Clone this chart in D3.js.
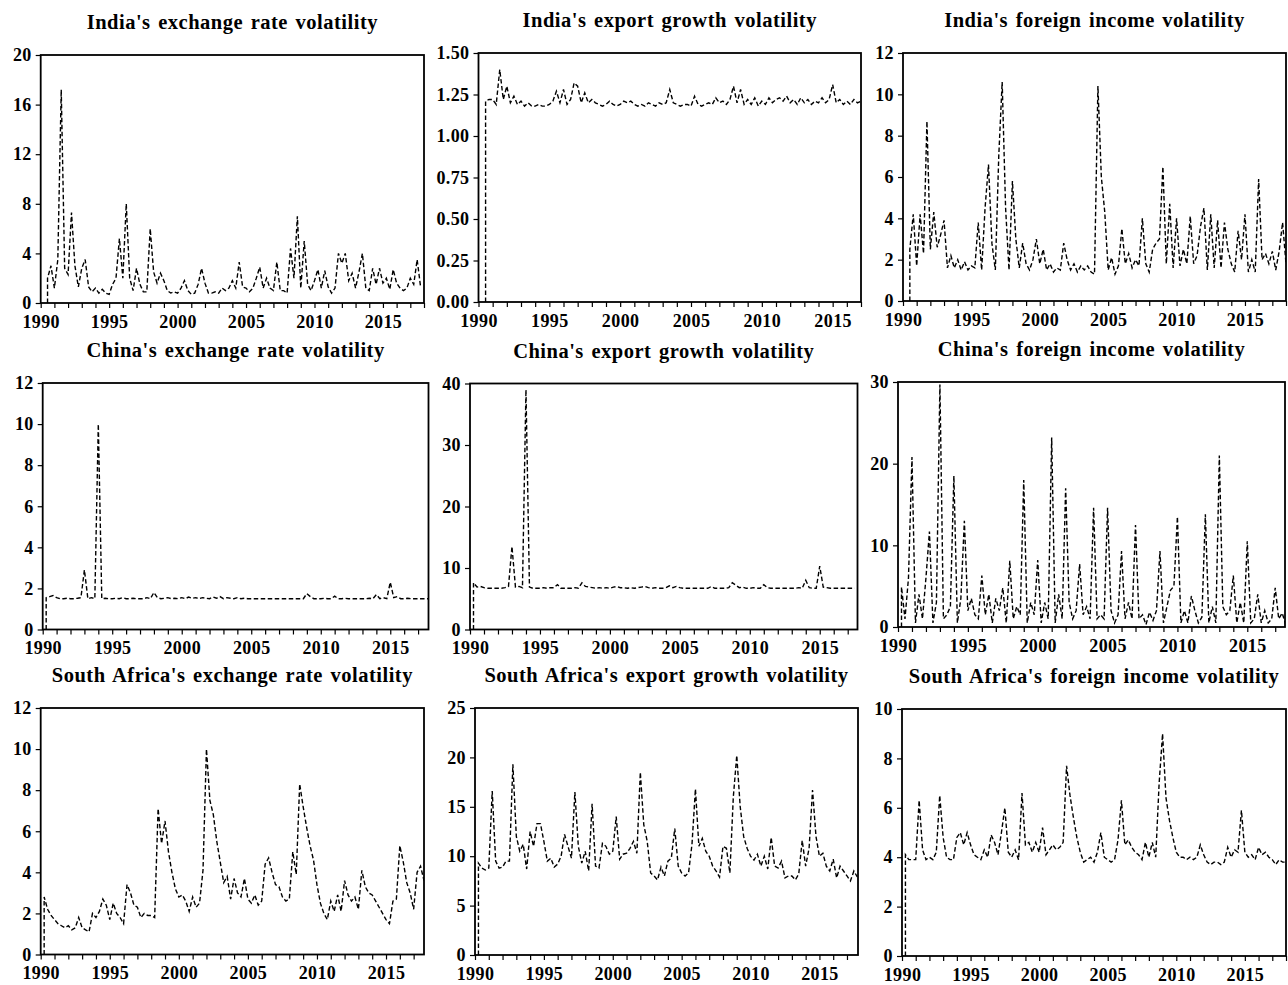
<!DOCTYPE html>
<html>
<head>
<meta charset="utf-8">
<script src="https://cdn.jsdelivr.net/npm/d3@7"></script>
<style>
  html, body { margin: 0; padding: 0; background: #fff; }
  svg { display: block; }
  .title { font-family: "Liberation Serif", "Times New Roman", serif; font-weight: bold; font-size: 20.5px; letter-spacing: 0.5px; word-spacing: 2px; fill: #000; }
  .axis text { font-family: "Liberation Serif", "Times New Roman", serif; font-weight: bold; font-size: 18px; letter-spacing: 0.4px; fill: #000; }
  .axis line { stroke: #000; stroke-width: 1.2; }
</style>
</head>
<body>
<svg id="chart" width="1288" height="985"></svg>
<script>
// ---------------- DATA ----------------
const panelTitles = [
  "India's exchange rate volatility",
  "India's export growth volatility",
  "India's foreign income volatility",
  "China's exchange rate volatility",
  "China's export growth volatility",
  "China's foreign income volatility",
  "South Africa's exchange rate volatility",
  "South Africa's export growth volatility",
  "South Africa's foreign income volatility"
];
const yMaxValues = [20, 1.5, 12, 12, 40, 30, 12, 25, 10];
const yTickSteps = [4, 0.25, 2, 2, 10, 10, 2, 5, 2];
const yTickDecimals = [0, 2, 0, 0, 0, 0, 0, 0, 0];
const xStartYear = 1990;
const xEndYears = [2018, 2017, 2018, 2017.75, 2017.7, 2017.7, 2017.75, 2017.8, 2018];
const yearLabelStep = 5;
// first observed quarter of each series (the leading 0 sits at the same date)
const seriesStart = [1990.5, 1990.5, 1990.5, 1990.25, 1990.25, 1990.25, 1990.25, 1990.25, 1990.25];
const quarterStep = 0.25;

// quarterly values (first value = initial 0)
const indiaExchange = [0,
  2.0, 3.0,
  1.2, 3.5, 17.2, 2.8,
  2.3, 7.3, 3.0, 1.3,
  2.8, 3.5, 1.3, 0.9,
  1.2, 0.8, 1.1, 0.8,
  0.7, 1.5, 2.0, 5.2,
  2.0, 8.0, 2.0, 1.0,
  2.8, 1.5, 0.9, 0.9,
  6.0, 2.5, 1.6, 2.4,
  1.8, 1.0, 0.8, 0.9,
  0.8, 1.2, 1.8, 1.0,
  0.7, 0.8, 1.5, 2.8,
  1.6, 0.8, 0.8, 0.9,
  0.8, 1.2, 1.0, 1.2,
  1.8, 1.2, 3.3, 1.3,
  1.2, 0.9, 1.2, 2.0,
  2.9, 1.2, 2.0, 1.2,
  1.0, 3.3, 1.0, 1.0,
  0.8, 4.4, 2.0, 7.0,
  1.2, 5.0, 1.5, 1.0,
  1.8, 2.7, 1.2, 2.6,
  1.3, 0.8, 1.2, 4.0,
  3.2, 4.0, 1.8, 2.4,
  1.2, 2.5, 4.0, 1.2,
  1.0, 2.8, 1.5, 2.8,
  1.6, 2.0, 1.1, 2.7,
  1.6, 1.2, 1.0, 1.2,
  2.0, 1.5, 3.5, 1.3];

const indiaExport = [0,
  1.21, 1.22,
  1.22, 1.19, 1.40, 1.22,
  1.30, 1.20, 1.24, 1.19,
  1.21, 1.18, 1.20, 1.18,
  1.18, 1.19, 1.18, 1.18,
  1.19, 1.21, 1.27, 1.20,
  1.28, 1.19, 1.22, 1.32,
  1.30, 1.20, 1.26, 1.20,
  1.22, 1.20, 1.19, 1.18,
  1.19, 1.21, 1.19, 1.18,
  1.19, 1.21, 1.20, 1.21,
  1.19, 1.18, 1.19, 1.18,
  1.20, 1.19, 1.18, 1.20,
  1.19, 1.20, 1.28, 1.20,
  1.19, 1.18, 1.19, 1.19,
  1.18, 1.24, 1.19, 1.18,
  1.19, 1.20, 1.19, 1.23,
  1.20, 1.21, 1.19, 1.22,
  1.30, 1.20, 1.28, 1.19,
  1.22, 1.19, 1.23, 1.18,
  1.21, 1.19, 1.23, 1.20,
  1.22, 1.23, 1.21, 1.24,
  1.20, 1.22, 1.19, 1.23,
  1.20, 1.22, 1.19, 1.21,
  1.20, 1.23, 1.20, 1.22,
  1.31, 1.20, 1.22, 1.19,
  1.21, 1.19, 1.22, 1.20,
  1.21];

const indiaForeign = [0,
  2.5, 4.2,
  1.7, 4.2, 2.3, 8.7,
  2.5, 4.3, 2.6, 3.2,
  3.9, 1.6, 2.2, 1.6,
  2.0, 1.5, 1.9, 1.5,
  1.7, 1.6, 3.8, 1.5,
  4.5, 6.6, 2.8, 1.5,
  7.0, 10.6, 4.5, 1.5,
  5.8, 3.0, 1.6, 2.8,
  1.8, 1.5, 2.0, 3.0,
  1.8, 2.5, 1.5, 1.8,
  1.4, 1.6, 1.5, 2.8,
  2.0, 1.5, 1.8, 1.4,
  1.7, 1.5, 1.7, 1.4,
  1.3, 10.4, 6.0, 4.3,
  1.5, 2.1, 1.3, 1.7,
  3.5, 1.8, 2.3, 1.6,
  2.0, 1.7, 4.0, 1.8,
  1.4, 2.5, 2.8, 3.0,
  6.5, 1.8, 4.7, 1.6,
  4.0, 1.7, 2.5, 1.8,
  4.1, 1.8, 2.2, 3.6,
  4.5, 1.5, 4.2, 1.6,
  3.9, 1.6, 3.8, 2.5,
  1.8, 1.4, 3.4, 2.0,
  4.2, 1.4, 2.0, 1.4,
  5.9, 2.0, 2.3, 1.8,
  2.4, 1.5, 2.4, 3.8,
  1.8];

const chinaExchange = [0,
  1.55, 1.6, 1.65,
  1.55, 1.5, 1.5, 1.52,
  1.5, 1.5, 1.52, 1.55,
  2.9, 1.5, 1.55, 1.5,
  10.0, 1.5, 1.52, 1.5,
  1.5, 1.52, 1.5, 1.55,
  1.5, 1.5, 1.52, 1.5,
  1.5, 1.5, 1.55, 1.5,
  1.8, 1.55, 1.5, 1.52,
  1.55, 1.5, 1.52, 1.5,
  1.55, 1.5, 1.58, 1.52,
  1.55, 1.5, 1.55, 1.52,
  1.5, 1.58, 1.52, 1.6,
  1.5, 1.55, 1.52, 1.5,
  1.55, 1.5, 1.52, 1.5,
  1.5, 1.5, 1.5, 1.5,
  1.5, 1.5, 1.5, 1.5,
  1.5, 1.5, 1.5, 1.5,
  1.5, 1.5, 1.5, 1.5,
  1.75, 1.6, 1.5, 1.5,
  1.5, 1.52, 1.5, 1.5,
  1.62, 1.5, 1.5, 1.52,
  1.5, 1.5, 1.5, 1.5,
  1.5, 1.5, 1.52, 1.5,
  1.7, 1.5, 1.55, 1.5,
  2.3, 1.55, 1.6, 1.5,
  1.5, 1.52, 1.5, 1.5,
  1.5, 1.5, 1.5, 1.5];

const chinaExport = [0,
  7.6, 6.9, 7.0,
  6.8, 6.7, 6.7, 6.7,
  6.7, 6.7, 6.8, 7.0,
  13.5, 6.9, 7.0, 6.8,
  39.0, 6.9, 6.7, 6.7,
  6.7, 6.8, 6.7, 6.8,
  6.8, 7.3, 6.7, 6.7,
  6.7, 6.7, 6.8, 6.7,
  7.6, 7.0, 6.9, 6.8,
  6.7, 6.8, 6.7, 6.8,
  6.7, 6.9, 7.0, 6.8,
  6.8, 6.7, 6.8, 6.7,
  6.8, 6.9, 7.0, 6.8,
  6.7, 6.8, 6.7, 6.7,
  6.8, 7.1, 6.8, 7.0,
  6.8, 6.7, 6.7, 6.7,
  6.7, 6.7, 6.7, 6.7,
  6.7, 7.0, 6.7, 6.7,
  6.7, 6.7, 6.8, 7.6,
  7.2, 6.8, 6.9, 6.7,
  6.7, 6.8, 6.7, 6.7,
  7.3, 6.8, 6.7, 6.7,
  6.7, 6.7, 6.7, 6.7,
  6.7, 6.7, 6.8, 6.7,
  8.0, 6.8, 6.7, 6.7,
  10.3, 6.9, 6.8, 6.7,
  6.7, 6.7, 6.7, 6.7,
  6.7, 6.7, 6.7];

const chinaForeign = [0,
  4.9, 1.0, 6.0,
  20.8, 0.5, 4.0, 1.0,
  6.0, 11.7, 0.5, 3.0,
  29.7, 1.0, 1.5, 2.5,
  18.5, 0.5, 3.5, 13.0,
  2.0, 3.5, 1.5, 1.0,
  6.3, 1.5, 4.0, 0.5,
  3.5, 2.0, 4.8, 0.5,
  8.1, 1.0, 2.5, 1.5,
  18.0, 0.5, 3.0, 1.5,
  8.2, 0.5, 3.0, 1.0,
  23.2, 0.5, 4.0, 1.0,
  17.0, 3.0, 1.0, 2.0,
  7.7, 1.5, 2.5, 1.0,
  14.6, 1.0, 1.5, 1.0,
  14.6, 2.0, 0.5, 1.5,
  9.3, 1.0, 3.0, 1.0,
  12.5, 1.0, 1.5, 0.3,
  1.8, 0.8, 2.0, 9.3,
  0.5, 2.5, 4.5, 5.0,
  13.5, 0.5, 2.0, 0.5,
  3.8, 2.0, 0.5, 1.2,
  13.8, 0.5, 2.5, 0.5,
  21.0, 2.5, 1.5, 2.0,
  6.3, 0.5, 3.0, 0.5,
  10.5, 0.5, 1.0, 4.0,
  0.5, 2.0, 0.5, 1.0,
  4.8, 1.0, 1.7, 0.3];

const southAfricaExchange = [0,
  2.8, 2.2, 1.9,
  1.7, 1.5, 1.4, 1.3,
  1.4, 1.2, 1.3, 1.8,
  1.3, 1.2, 1.1, 2.0,
  1.8, 2.1, 2.7, 2.4,
  1.7, 2.5, 2.0, 1.8,
  1.5, 3.4, 3.0, 2.4,
  2.3, 1.8, 2.0, 1.9,
  1.9, 1.8, 7.1, 5.4,
  6.5, 5.0, 4.0, 3.2,
  2.8, 2.9, 2.6, 2.1,
  2.8, 2.3, 2.5, 4.1,
  10.0, 7.5, 6.8, 5.5,
  4.5, 3.5, 3.8, 2.7,
  3.7, 3.0, 2.8, 3.7,
  2.7, 2.5, 2.9, 2.4,
  2.6, 4.4, 4.7, 4.0,
  3.4, 3.3, 2.8, 2.6,
  2.7, 5.0, 3.9, 8.3,
  7.2, 6.2, 5.3, 4.6,
  3.4, 2.5, 2.0, 1.7,
  2.6, 2.1, 2.9, 2.1,
  3.6, 2.9, 2.6, 2.8,
  2.2, 4.1, 3.3, 3.0,
  2.9, 2.6, 2.3, 2.0,
  1.7, 1.5, 2.6, 2.7,
  5.3, 4.5, 3.5, 3.0,
  2.2, 4.0, 4.3, 3.6];

const southAfricaExport = [0,
  9.3, 8.8, 8.6,
  8.8, 16.6, 9.5, 8.8,
  8.9, 9.5, 9.5, 19.3,
  12.0, 10.5, 11.2, 8.7,
  12.5, 11.0, 13.3, 13.3,
  11.5, 9.5, 9.8, 8.9,
  9.2, 10.0, 12.2, 11.0,
  9.8, 16.5, 11.0, 9.3,
  10.5, 8.5, 15.3, 9.0,
  8.8, 11.3, 11.0, 10.2,
  10.5, 14.0, 9.7, 10.2,
  10.3, 10.8, 11.5, 10.3,
  18.5, 13.2, 11.5, 8.3,
  8.0, 7.6, 8.9, 8.0,
  9.5, 9.8, 12.8, 9.0,
  8.3, 8.0, 8.3, 11.2,
  16.8, 11.0, 11.8, 10.5,
  10.0, 9.0, 8.5, 7.9,
  11.0, 10.8, 8.3, 16.0,
  20.2, 15.0, 12.0, 10.8,
  10.0, 9.6, 10.2, 9.0,
  10.0, 8.7, 11.9, 9.0,
  8.8, 9.5, 7.8, 8.0,
  8.0, 7.6, 8.2, 11.6,
  9.0, 10.8, 16.7, 12.0,
  10.0, 10.3, 9.0, 8.5,
  9.7, 7.8, 9.0, 8.5,
  8.0, 7.5, 8.5, 7.9];

const southAfricaForeign = [0,
  4.1, 3.9, 3.9,
  3.9, 6.3, 4.3, 3.9,
  4.0, 3.9, 4.2, 6.5,
  4.8, 4.0, 3.9, 3.9,
  4.8, 5.0, 4.5, 5.0,
  4.5, 4.1, 4.0, 3.9,
  4.3, 4.0, 4.9, 4.6,
  4.1, 5.0, 6.0, 4.2,
  4.0, 4.3, 3.9, 6.6,
  4.5, 4.6, 4.2, 4.6,
  4.2, 5.2, 4.1, 4.3,
  4.5, 4.3, 4.4, 4.6,
  7.7, 6.5, 5.6, 4.8,
  4.2, 3.8, 3.9, 4.0,
  3.8, 4.2, 5.0, 4.0,
  3.9, 3.8, 3.9, 4.7,
  6.3, 4.5, 4.7, 4.4,
  4.2, 4.1, 3.9, 4.6,
  4.0, 4.6, 4.0, 7.0,
  9.0, 6.4, 5.5, 4.8,
  4.2, 4.0, 4.0, 3.9,
  4.0, 3.9, 4.0, 4.5,
  4.1, 3.8, 3.7, 3.8,
  3.8, 3.7, 3.8, 4.4,
  4.0, 4.3, 4.2, 5.9,
  4.2, 4.0, 4.1, 3.9,
  4.4, 4.1, 4.2, 4.0,
  3.9, 3.7, 3.9, 3.8,
  3.8];

const seriesValues = [indiaExchange, indiaExport, indiaForeign,
  chinaExchange, chinaExport, chinaForeign,
  southAfricaExchange, southAfricaExport, southAfricaForeign];

// ---------------- LAYOUT ----------------
const plotBoxes = [
  [40.7, 424, 55, 303],
  [478.5, 861, 53, 302],
  [903, 1286, 53, 301],
  [42.7, 428.5, 383, 629.5],
  [470, 857.5, 383.5, 629.5],
  [898, 1285, 382, 627],
  [40.7, 424, 708, 954.5],
  [475, 858, 708, 955],
  [902, 1286, 709, 956]
];

const svg = d3.select("#chart");

panelTitles.forEach((title, p) => {
  const [x0, x1, y0, y1] = plotBoxes[p];
  const x = d3.scaleLinear().domain([xStartYear, xEndYears[p]]).range([x0, x1]);
  const y = d3.scaleLinear().domain([0, yMaxValues[p]]).range([y1, y0]);
  const g = svg.append("g");

  const vals = seriesValues[p];
  const pts = vals.map((v, i) => ({ t: seriesStart[p] + Math.max(0, i - 1) * quarterStep, v }));

  g.append("clipPath").attr("id", "clip" + p)
    .append("rect").attr("x", x0).attr("y", y0 - 2).attr("width", x1 - x0).attr("height", y1 - y0 + 2);

  g.append("path")
    .datum(pts)
    .attr("clip-path", `url(#clip${p})`)
    .attr("fill", "none")
    .attr("stroke", "#000")
    .attr("stroke-width", 1.4)
    .attr("stroke-dasharray", "4.5,2.5")
    .attr("d", d3.line().x(d => x(d.t)).y(d => y(d.v)));

  // x axis
  const years = d3.range(xStartYear, Math.floor(xEndYears[p]) + 1);
  const xAxis = d3.axisBottom(x).tickValues(years).tickSize(5).tickSizeOuter(0).tickPadding(7)
    .tickFormat(d => (d % yearLabelStep === 0 ? String(d) : ""));
  const gx = g.append("g").attr("class", "axis").attr("transform", `translate(0,${y1})`).call(xAxis);
  gx.select(".domain").remove();

  // y axis
  const step = yTickSteps[p];
  const yTicks = d3.range(0, yMaxValues[p] + step / 2, step);
  const yAxis = d3.axisLeft(y).tickValues(yTicks).tickSize(5).tickSizeOuter(0).tickPadding(4)
    .tickFormat(d => d.toFixed(yTickDecimals[p]));
  const gy = g.append("g").attr("class", "axis").attr("transform", `translate(${x0},0)`).call(yAxis);
  gy.select(".domain").remove();

  // frame
  g.append("rect").attr("x", x0).attr("y", y0).attr("width", x1 - x0).attr("height", y1 - y0)
    .attr("fill", "none").attr("stroke", "#000").attr("stroke-width", 1.8);

  // title
  g.append("text").attr("class", "title")
    .attr("x", (x0 + x1) / 2).attr("y", y0 - 26)
    .attr("text-anchor", "middle")
    .text(title);
});
</script>
</body>
</html>
